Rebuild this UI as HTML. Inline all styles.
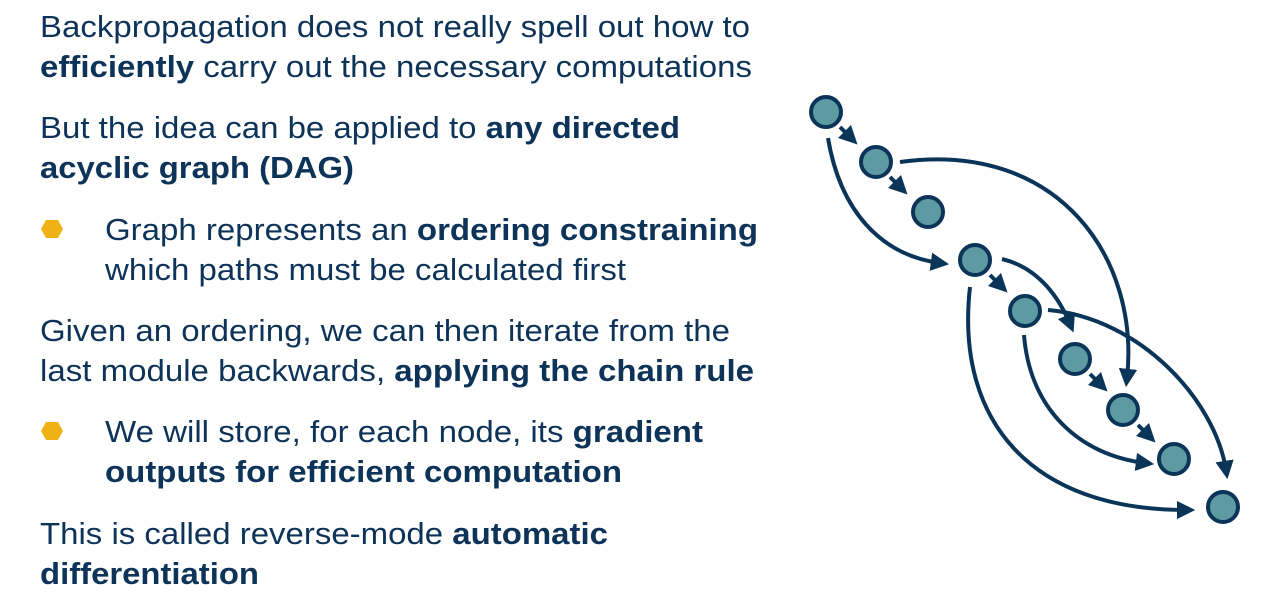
<!DOCTYPE html>
<html><head><meta charset="utf-8"><style>
html,body{margin:0;padding:0;background:#fff;width:1280px;height:607px;overflow:hidden}
svg{display:block}
text{font-family:"Liberation Sans",Arial,sans-serif;font-size:31px;fill:#0d3458}
.b{font-weight:bold}
</style></head><body>
<svg width="1280" height="607" viewBox="0 0 1280 607">
<defs>
<marker id="a" viewBox="0 0 10 10" refX="5" refY="5" markerWidth="4.6" markerHeight="4.6" orient="auto" markerUnits="strokeWidth">
<path d="M0,0 L10,5 L0,10 z" fill="#0b3558"/></marker>
</defs>
<text x="40" y="37" textLength="710" lengthAdjust="spacingAndGlyphs">Backpropagation does not really spell out how to</text>
<text x="40" y="77" textLength="712" lengthAdjust="spacingAndGlyphs"><tspan class="b">efficiently</tspan> carry out the necessary computations</text>
<text x="40" y="138" textLength="640" lengthAdjust="spacingAndGlyphs">But the idea can be applied to <tspan class="b">any directed</tspan></text>
<text x="40" y="178" class="b" textLength="314" lengthAdjust="spacingAndGlyphs">acyclic graph (DAG)</text>
<polygon points="41,229 46,220 58,220 63,229 58,238 46,238" fill="#f0b114"/>
<text x="105" y="240" textLength="653" lengthAdjust="spacingAndGlyphs">Graph represents an <tspan class="b">ordering constraining</tspan></text>
<text x="105" y="280" textLength="521" lengthAdjust="spacingAndGlyphs">which paths must be calculated first</text>
<text x="40" y="341" textLength="690" lengthAdjust="spacingAndGlyphs">Given an ordering, we can then iterate from the</text>
<text x="40" y="381" textLength="714" lengthAdjust="spacingAndGlyphs">last module backwards, <tspan class="b">applying the chain rule</tspan></text>
<polygon points="41,431 46,422 58,422 63,431 58,440 46,440" fill="#f0b114"/>
<text x="105" y="442" textLength="598" lengthAdjust="spacingAndGlyphs">We will store, for each node, its <tspan class="b">gradient</tspan></text>
<text x="105" y="482" class="b" textLength="517" lengthAdjust="spacingAndGlyphs">outputs for efficient computation</text>
<text x="40" y="544" textLength="568" lengthAdjust="spacingAndGlyphs">This is called reverse-mode <tspan class="b">automatic</tspan></text>
<text x="40" y="584" class="b" textLength="219" lengthAdjust="spacingAndGlyphs">differentiation</text>

<g fill="none" stroke="#0b3558" stroke-width="4" marker-end="url(#a)">
<path d="M840,127 L851,138"/>
<path d="M890,177 L901,188"/>
<path d="M990,275 L1001,286"/>
<path d="M1090,374 L1101,385"/>
<path d="M1138,425 L1149,436"/>
<path d="M828,138 C840,210 880,255 940,263"/>
<path d="M900,162 C1060,140 1140,260 1127,378"/>
<path d="M1002,259 C1040,268 1060,300 1070,324"/>
<path d="M1048,310 C1140,318 1215,400 1226,470"/>
<path d="M970,287 C955,420 1030,510 1186,510"/>
<path d="M1024,335 C1030,410 1080,455 1145,463"/>
</g>
<g fill="#5e9aa2" stroke="#0b3558" stroke-width="4">
<circle cx="826" cy="112" r="15"/>
<circle cx="876" cy="162" r="15"/>
<circle cx="928" cy="212" r="15"/>
<circle cx="975" cy="260" r="15"/>
<circle cx="1025" cy="311" r="15"/>
<circle cx="1075" cy="359" r="15"/>
<circle cx="1123" cy="410" r="15"/>
<circle cx="1174" cy="459" r="15"/>
<circle cx="1223" cy="507" r="15"/>
</g>
</svg>
</body></html>
